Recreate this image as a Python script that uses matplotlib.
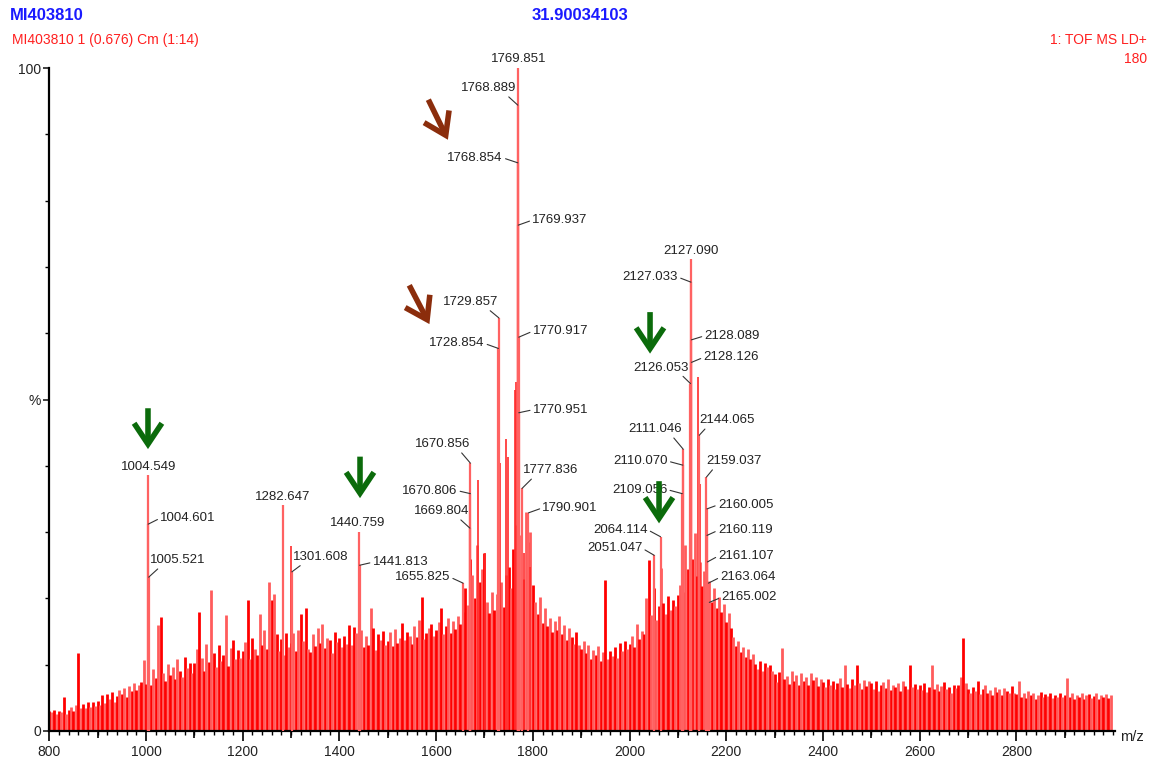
import matplotlib
matplotlib.use('Agg')
import numpy as np
import matplotlib.pyplot as plt
from matplotlib.patches import FancyArrowPatch
from matplotlib.ticker import MultipleLocator

plt.rcParams['font.family'] = ['Liberation Sans', 'DejaVu Sans']

# background (unlabelled) intensities, one value every 5 Da, one row per 100 Da
noise_start = 800
noise_step = 5
noise_rows = [
    [3.0, 2.8, 3.1, 2.6, 3.0, 2.9, 5.2, 2.5, 3.1, 3.6, 3.0, 3.9, 11.8, 3.4, 4.1, 3.5, 4.3, 3.6, 4.4, 3.8],          # 800
    [4.6, 3.9, 5.4, 4.2, 5.6, 4.8, 5.9, 4.4, 5.3, 6.2, 5.6, 6.5, 5.2, 6.8, 6.0, 7.3, 6.2, 7.0, 7.4, 10.7],         # 900
    [7.1, 8.2, 6.9, 9.4, 8.0, 16.0, 17.2, 8.8, 7.6, 10.1, 8.4, 9.6, 7.9, 10.8, 9.0, 8.1, 11.2, 9.5, 10.3, 8.7],    # 1000
    [10.2, 12.4, 18.0, 11.0, 9.1, 13.1, 10.4, 21.2, 11.8, 9.7, 12.9, 10.6, 11.4, 17.5, 9.8, 12.5, 13.8, 10.9, 12.2, 11.0],
    [12.0, 13.4, 19.7, 10.8, 14.1, 12.3, 11.5, 17.7, 13.0, 15.2, 12.4, 22.5, 19.7, 20.7, 14.6, 12.1, 13.9, 11.4, 14.8, 12.6],
    [13.2, 14.8, 12.1, 15.3, 17.7, 13.6, 18.5, 12.4, 11.9, 14.7, 12.8, 15.6, 13.3, 16.2, 12.5, 14.1, 13.7, 11.8, 15.0, 13.4],
    [14.0, 12.6, 14.4, 13.1, 16.0, 12.9, 15.7, 14.8, 13.5, 15.2, 12.7, 14.3, 13.0, 18.5, 15.5, 12.2, 14.6, 13.8, 15.1, 12.9],
    [13.6, 14.9, 12.8, 15.4, 13.2, 14.1, 16.3, 13.7, 15.0, 14.4, 13.1, 15.8, 14.2, 16.7, 20.2, 13.9, 14.8, 15.6, 16.1, 14.3],
    [15.2, 16.4, 18.5, 14.6, 15.9, 17.0, 14.8, 16.6, 15.4, 17.3, 16.1, 18.0, 21.5, 19.0, 26.0, 23.5, 20.0, 28.0, 22.5, 24.5],
    [26.8, 19.5, 17.8, 21.0, 18.2, 20.6, 19.1, 22.4, 18.7, 23.5, 24.8, 21.6, 27.5, 31.0, 25.0, 29.5, 23.0, 33.0, 28.5, 30.0],
    [22.0, 19.4, 17.6, 20.2, 16.3, 18.5, 15.8, 17.1, 14.9, 16.6, 15.2, 17.4, 14.6, 16.0, 13.8, 15.5, 14.2, 13.1, 15.0, 12.9],
    [12.4, 13.6, 11.8, 12.9, 10.9, 12.2, 11.5, 12.8, 10.6, 11.9, 22.8, 10.8, 12.1, 11.3, 12.6, 11.0, 13.2, 12.0, 13.5, 12.3],
    [13.1, 14.4, 12.6, 16.2, 13.9, 15.1, 14.7, 20.0, 25.8, 17.5, 21.6, 16.8, 18.9, 24.6, 19.3, 17.6, 20.4, 18.2, 19.7, 18.8],
    [20.5, 22.0, 21.0, 28.0, 24.5, 22.8, 26.0, 29.8, 23.4, 25.5, 21.9, 24.2, 20.8, 22.6, 19.4, 21.5, 18.6, 20.2, 17.9, 19.1],
    [16.5, 17.8, 15.6, 14.2, 12.8, 13.6, 11.9, 12.7, 11.2, 12.4, 10.8, 11.6, 10.1, 9.4, 10.6, 9.1, 10.2, 9.6, 9.9, 9.0],
    [8.6, 7.4, 8.9, 12.5, 7.8, 8.3, 7.1, 9.0, 7.6, 8.4, 6.9, 8.8, 7.5, 8.1, 7.0, 8.7, 7.7, 8.2, 6.8, 7.9],
    [7.4, 6.6, 7.9, 6.9, 7.6, 6.3, 7.2, 8.0, 6.7, 10.0, 7.1, 6.5, 7.8, 6.9, 10.0, 7.3, 6.4, 7.7, 6.8, 7.5],
    [7.2, 6.4, 7.6, 6.1, 6.9, 7.4, 6.5, 7.8, 6.2, 7.0, 6.6, 7.3, 6.0, 7.5, 6.8, 6.3, 9.9, 6.7, 7.1, 6.4],
    [6.9, 6.2, 7.3, 5.9, 6.6, 9.9, 6.4, 7.1, 6.0, 6.8, 7.4, 6.3, 6.7, 5.8, 7.0, 6.5, 6.9, 8.2, 14.0, 7.2],
    [6.3, 5.7, 6.6, 6.0, 7.6, 5.6, 6.4, 6.9, 5.8, 6.2, 5.5, 6.7, 5.9, 6.3, 5.4, 6.5, 6.0, 5.7, 6.8, 5.8],
    [5.6, 7.6, 5.2, 5.8, 5.0, 6.1, 5.4, 5.7, 4.9, 5.5, 5.9, 5.1, 5.6, 5.3, 5.8, 5.0, 5.5, 5.2, 5.7, 5.1],
    [5.4, 8.0, 5.1, 5.7, 4.9, 5.5, 5.2, 5.8, 4.8, 5.4, 5.6, 5.0, 5.3, 5.7, 4.9, 5.5, 5.2, 5.6, 5.0, 5.4],   # 2900
]

# unlabelled tall lines inside the peak clusters
extra_mz = [1299.5, 1687.3, 1701.0, 1732.0, 1744.6, 1748.0, 1762.5, 1765.0, 1772.0, 1781.8, 1794.0, 2142.3, 2145.8]
extra_int = [27.9, 37.9, 26.8, 40.4, 44.1, 41.3, 51.4, 52.7, 48.0, 26.8, 24.7, 53.4, 37.3]

# labelled peaks
peak_mz = [1004.549, 1004.601, 1005.521, 1282.647, 1301.608, 1440.759, 1441.813,
           1655.825, 1669.804, 1670.806, 1670.856, 1728.854, 1729.857,
           1768.854, 1768.889, 1769.851, 1769.937, 1770.917, 1770.951, 1777.836, 1790.901,
           2051.047, 2064.114, 2109.056, 2110.070, 2111.046, 2126.053, 2127.033, 2127.090,
           2128.089, 2128.126, 2144.065, 2159.037, 2160.005, 2160.119, 2161.107, 2163.064, 2165.002]
peak_int = [38.6, 31.2, 23.2, 34.1, 24.0, 30.0, 25.0,
            22.3, 30.6, 35.8, 40.4, 57.7, 62.3,
            85.7, 94.4, 100.0, 76.3, 59.4, 48.0, 36.6, 32.9,
            26.5, 29.3, 35.8, 40.1, 42.5, 52.4, 67.7, 71.2,
            59.0, 55.6, 44.6, 38.3, 33.5, 29.5, 25.5, 22.3, 19.4]

# label placement: offset in pixels (dx, dy), alignment, leader-line origin on the text box
label_layout = [
    (0, 8, 'center', None), (12, 6, 'left', (0, .5)), (1, 17, 'left', (0.2, 0)),
    (0, 8, 'center', None), (1, 15, 'left', (0.2, 0)), (-1, 9, 'center', None), (13, 3, 'left', (0, .5)),
    (-13, 6, 'right', (1, .5)), (-1, 17, 'right', (0.8, 0)), (-13, 3, 'right', (1, .5)),
    (0, 19, 'right', (0.8, 0)), (-14, 5, 'right', (1, .5)), (-1, 16, 'right', (0.8, 0)),
    (-15, 5, 'right', (1, .5)), (-1, 17, 'right', (0.8, 0)), (0, 9, 'center', None),
    (14, 5, 'left', (0, .5)), (14, 6, 'left', (0, .5)), (14, 3, 'left', (0, .5)),
    (1, 18, 'left', (0.2, 0)), (14, 5, 'left', (0, .5)),
    (-12, 7, 'right', (1, .5)), (-13, 7, 'right', (1, .5)), (-15, 4, 'right', (1, .5)),
    (-15, 4, 'right', (1, .5)), (-1, 20, 'right', (0.8, 0)), (-2, 16, 'right', (0.85, 0)),
    (-13, 5, 'right', (1, .5)), (0, 8, 'center', None),
    (13, 4, 'left', (0, .5)), (12, 5, 'left', (0, .5)), (0, 15, 'left', (0.15, 0)),
    (0, 16, 'left', (0.15, 0)), (11, 4, 'left', (0, .5)), (11, 5, 'left', (0, .5)),
    (11, 6, 'left', (0, .5)), (12, 6, 'left', (0, .5)), (12, 5, 'left', (0, .5)),
]

# hand-drawn marker arrows: (x0, y0) -> (x1, y1) in m/z, %
green_arrows = [((1004.1, 49.1), (1004.1, 42.1)), ((1442.6, 41.8), (1442.6, 34.7)),
                ((2042.4, 63.6), (2042.4, 56.5)), ((2061.0, 38.1), (2061.0, 30.9))]
brown_arrows = [((1581.4, 95.6), (1626.9, 88.8)), ((1541.8, 67.6), (1588.8, 61.0))]

noise = np.concatenate([np.array(r) for r in noise_rows])
noise_mz = noise_start + noise_step * np.arange(len(noise))

W, H = 1154, 762
fig = plt.figure(figsize=(W / 100, H / 100), dpi=100)
ax = fig.add_axes([49.3 / W, 1 - 731 / H, (1115 - 49.3) / W, (731 - 68) / H])

cols = np.where(np.arange(len(noise)) % 2 == 0, '#ff0000', '#ff5c5c')
ax.vlines(noise_mz, 0, noise, colors=cols, lw=2.0, zorder=1)
ax.vlines(extra_mz, 0, extra_int, colors='#ff2a2a', lw=1.2, zorder=2)
ax.vlines(peak_mz, 0, peak_int, colors='#ff6262', lw=1.6, zorder=3)

px = 0.72
for mz, h, (dx, dy, ha, rel) in zip(peak_mz, peak_int, label_layout):
    kw = dict(xy=(mz, h), xytext=(dx * px, dy * px), textcoords='offset points',
              ha=ha, va='center', fontsize=9.5, color='#222222', zorder=5)
    if rel is not None:
        kw['arrowprops'] = dict(arrowstyle='-', color='#333333', lw=0.8,
                                shrinkA=0, shrinkB=0, relpos=rel)
    ax.annotate('%.3f' % mz, **kw)

for arrows, c in ((green_arrows, '#0b6b0b'), (brown_arrows, '#8b2d0c')):
    for p0, p1 in arrows:
        ax.add_patch(FancyArrowPatch(p0, p1, arrowstyle='->,head_length=0.75,head_width=0.5',
                                     mutation_scale=20, lw=4.0, color=c, zorder=6,
                                     capstyle='butt', joinstyle='miter'))

ax.set_xlim(800, 3004)
ax.set_ylim(0, 100)
for s in ('top', 'right'):
    ax.spines[s].set_visible(False)
for s in ('left', 'bottom'):
    ax.spines[s].set_linewidth(1.6)
ax.set_xticks(np.arange(800, 3000, 200))
ax.xaxis.set_minor_locator(MultipleLocator(20))
ax.set_yticks([0, 50, 100])
ax.set_yticklabels(['0', '%', '100'])
ax.yaxis.set_minor_locator(MultipleLocator(10))
ax.tick_params(axis='x', which='major', length=7, width=1.4, labelsize=10, colors='#222222', pad=3)
ax.tick_params(axis='x', which='minor', length=3, width=1.0)
ax.tick_params(axis='y', which='major', length=4, width=1.2, labelsize=10, colors='#222222', pad=2)
ax.tick_params(axis='y', which='minor', length=3, width=1.0)
sec = ax.secondary_xaxis('bottom')
sec.set_xticks(np.arange(900, 3000, 200))
sec.tick_params(length=5, width=1.2, labelbottom=False)
sec.spines['bottom'].set_visible(False)

fig.text(10 / W, 1 - 16 / H, 'MI403810', color='#1a1aff', fontsize=12, fontweight='bold', va='center')
fig.text(580 / W, 1 - 16 / H, '31.90034103', color='#1a1aff', fontsize=12, fontweight='bold',
         va='center', ha='center')
fig.text(12 / W, 1 - 40 / H, 'MI403810 1 (0.676) Cm (1:14)', color='#ff2020', fontsize=10, va='center')
fig.text(1147 / W, 1 - 40 / H, '1: TOF MS LD+', color='#ff2020', fontsize=10, va='center', ha='right')
fig.text(1147 / W, 1 - 59 / H, '180', color='#ff2020', fontsize=10, va='center', ha='right')
fig.text(1120 / W, 1 - 737 / H, 'm/z', color='#222222', fontsize=10.5, va='center')

fig.savefig('out.png', dpi=100)
